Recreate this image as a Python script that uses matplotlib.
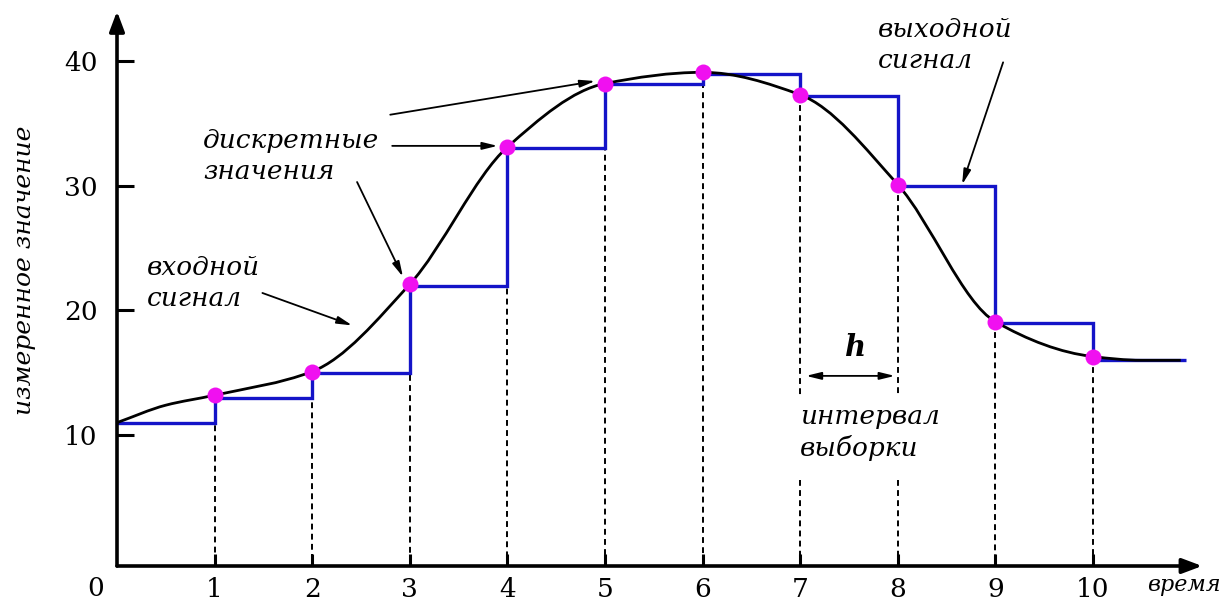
import matplotlib
matplotlib.use("Agg")
import matplotlib.pyplot as plt
from matplotlib.path import Path
from matplotlib.patches import PathPatch
import numpy as np

# ---- data ----
curve_t = [0, 0.5, 1, 2, 3, 4, 5, 6, 7, 8, 9, 10, 10.5, 10.9]
curve_v = [11.0, 12.4, 13.2, 15.1, 22.1, 33.1, 38.2, 39.1, 37.3, 30.1, 19.1, 16.3, 16.0, 16.0]

sample_t = [1, 2, 3, 4, 5, 6, 7, 8, 9, 10]
sample_v = [13.2, 15.1, 22.1, 33.1, 38.2, 39.1, 37.3, 30.1, 19.1, 16.3]

step_edges = [0, 1, 2, 3, 4, 5, 6, 7, 8, 9, 10, 10.95]
step_levels = [11, 13, 15, 22, 33, 38.2, 39, 37.2, 30, 19, 16]

xtick_vals = [1, 2, 3, 4, 5, 6, 7, 8, 9, 10]
xtick_labels = ["1", "2", "3", "4", "5", "6", "7", "8", "9", "10"]
ytick_vals = [10, 20, 30, 40]
ytick_labels = ["10", "20", "30", "40"]

W, H = 1230, 605
fig = plt.figure(figsize=(W / 100, H / 100), dpi=100)
left_px, bottom_px, right_px, top_px = 117, 566, 1210, 5
ax = fig.add_axes([left_px / W, (H - bottom_px) / H, (right_px - left_px) / W, (bottom_px - top_px) / H])
ax.set_xlim(0, 11.2)
ax.set_ylim(-0.5, 44.5)
for s in ax.spines.values():
    s.set_visible(False)

SERIF = "DejaVu Serif"
FS = 19

# axes with arrows
ax.annotate("", xy=(11.12, -0.5), xytext=(0, -0.5),
            arrowprops=dict(arrowstyle="-|>,head_length=1.2,head_width=0.45", lw=2.6, color="black",
                            shrinkA=0, shrinkB=0), annotation_clip=False)
ax.annotate("", xy=(0, 44.0), xytext=(0, -0.5),
            arrowprops=dict(arrowstyle="-|>,head_length=1.2,head_width=0.45", lw=2.6, color="black",
                            shrinkA=0, shrinkB=0), annotation_clip=False)

# ticks
ax.set_xticks(xtick_vals)
ax.set_xticklabels(xtick_labels, fontfamily=SERIF, fontsize=FS)
ax.set_yticks(ytick_vals)
ax.set_yticklabels(ytick_labels, fontfamily=SERIF, fontsize=FS)
ax.tick_params(axis="x", direction="in", length=9, width=2.2, pad=8)
ax.tick_params(axis="y", direction="in", length=12, width=2.2, pad=14)
ax.text(-0.22, -2.3, "0", fontfamily=SERIF, fontsize=FS, ha="center", va="center", clip_on=False)

# dashed vertical lines
gap_lo, gap_hi = 6.4, 13.2
for t, v in zip(sample_t, sample_v):
    if t in (7, 8):
        ax.plot([t, t], [v, gap_hi], ls=(0, (3, 2.2)), color="black", lw=1.4, zorder=1)
        ax.plot([t, t], [gap_lo, -0.5], ls=(0, (3, 2.2)), color="black", lw=1.4, zorder=1)
    else:
        ax.plot([t, t], [v, -0.5], ls=(0, (3, 2.2)), color="black", lw=1.4, zorder=1)

# step (output signal)
ax.stairs(step_levels, step_edges, baseline=None, color="#1414c8", lw=2.4, zorder=2)

# smooth input signal: monotone (harmonic-mean) cubic Bezier through the read points
x = np.asarray(curve_t, float)
y = np.asarray(curve_v, float)
h = np.diff(x)
d = np.diff(y) / h
m = np.zeros_like(y)
m[0], m[-1] = d[0], d[-1]
for i in range(1, len(x) - 1):
    if d[i - 1] * d[i] > 0:
        w1 = 2 * h[i] + h[i - 1]
        w2 = h[i] + 2 * h[i - 1]
        m[i] = (w1 + w2) / (w1 / d[i - 1] + w2 / d[i])
verts = [(x[0], y[0])]
codes = [Path.MOVETO]
for i in range(len(x) - 1):
    verts += [(x[i] + h[i] / 3, y[i] + m[i] * h[i] / 3),
              (x[i + 1] - h[i] / 3, y[i + 1] - m[i + 1] * h[i] / 3),
              (x[i + 1], y[i + 1])]
    codes += [Path.CURVE4] * 3
ax.add_patch(PathPatch(Path(verts, codes), fill=False, lw=2.0, edgecolor="black", zorder=3))

# sample dots
ax.plot(sample_t, sample_v, "o", color="#f010f0", ms=11.5, mec="none", zorder=4)

# annotations
arrow_kw = dict(arrowstyle="-|>,head_length=0.9,head_width=0.22", lw=1.3, color="black",
                shrinkA=0, shrinkB=0)
tkw = dict(fontfamily=SERIF, fontstyle="italic", fontsize=FS, linespacing=1.3)

ax.text(0.88, 32.4, "дискретные\nзначения", ha="left", va="center", **tkw)
ax.annotate("", xy=(4.9, 38.4), xytext=(2.8, 35.7), arrowprops=arrow_kw)
ax.annotate("", xy=(3.9, 33.2), xytext=(2.82, 33.2), arrowprops=arrow_kw)
ax.annotate("", xy=(2.93, 22.7), xytext=(2.46, 30.3), arrowprops=arrow_kw)

ax.text(0.31, 22.2, "входной\nсигнал", ha="left", va="center", **tkw)
ax.annotate("", xy=(2.41, 18.8), xytext=(1.49, 21.4), arrowprops=arrow_kw)

ax.text(7.8, 41.3, "выходной\nсигнал", ha="left", va="center", **tkw)
ax.annotate("", xy=(8.66, 30.1), xytext=(9.08, 39.9), arrowprops=arrow_kw)

ax.text(7.57, 17.0, "h", ha="center", va="center", fontfamily=SERIF, fontstyle="italic",
        fontweight="bold", fontsize=FS + 2)
ax.annotate("", xy=(7.97, 14.75), xytext=(7.06, 14.75),
            arrowprops=dict(arrowstyle="<|-|>,head_length=0.9,head_width=0.22", lw=1.3,
                            color="black", shrinkA=0, shrinkB=0))
ax.text(7.0, 10.2, "интервал\nвыборки", ha="left", va="center", **tkw)

ax.text(10.55, -2.0, "время", ha="left", va="center", fontfamily=SERIF, fontstyle="italic",
        fontsize=FS - 3, clip_on=False)
fig.text(25 / W, 1 - 270 / H, "измеренное значение", rotation=90, ha="center", va="center",
         fontfamily=SERIF, fontstyle="italic", fontsize=FS - 1)

fig.savefig("out.png", dpi=100)
